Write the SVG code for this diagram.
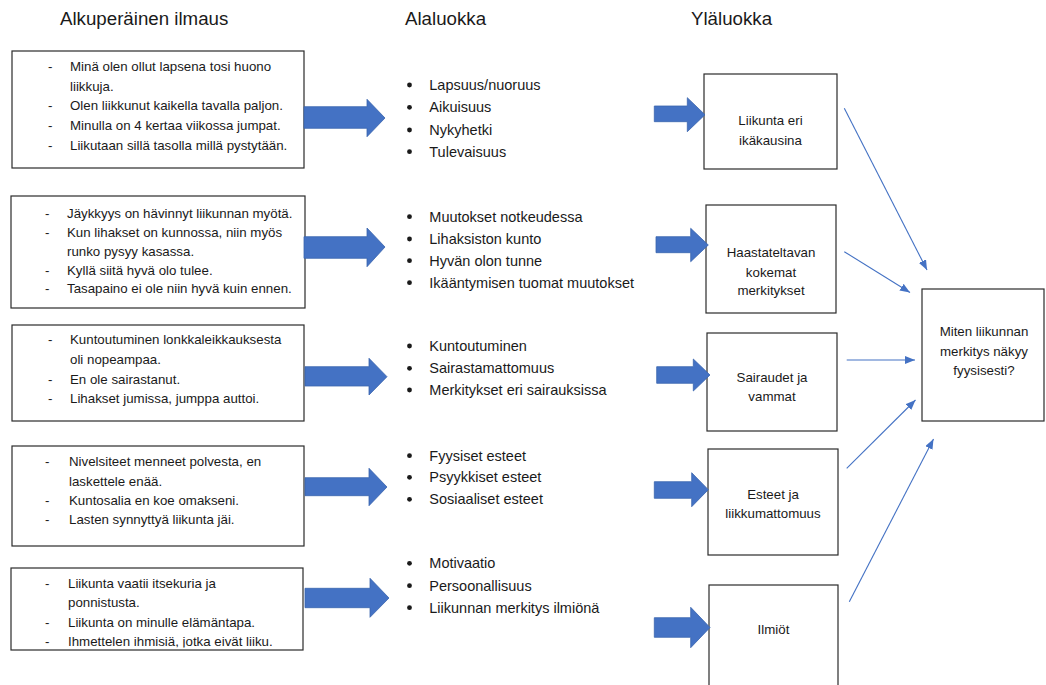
<svg xmlns="http://www.w3.org/2000/svg" width="1046" height="685" viewBox="0 0 1046 685">
<style>
text{font-family:"Liberation Sans",Arial,sans-serif;fill:#1a1a1a}
.h{font-size:18.7px}
.s{font-size:13.3px}
.m{font-size:14.5px}
.r{font-size:13.3px;text-anchor:middle}
.box{fill:#fff;stroke:#2b2b2b;stroke-width:1.2}
.blk{fill:#4472C4;stroke:#3a64ad;stroke-width:0.8}
.thin{stroke:#4472C4;stroke-width:1.1;fill:none;marker-end:url(#ah)}
</style>
<defs>
<marker id="ah" markerUnits="userSpaceOnUse" markerWidth="10" markerHeight="8" refX="10" refY="4" orient="auto">
<path d="M0,0 L10,4 L0,8 Z" fill="#4472C4"/>
</marker>
<clipPath id="c5"><rect x="0" y="560" width="310" height="87.5"/></clipPath>
</defs>
<rect width="1046" height="685" fill="#fff"/>
<g id="headers">
<text class="h" x="60" y="25">Alkuperäinen ilmaus</text>
<text class="h" x="405" y="25">Alaluokka</text>
<text class="h" x="691" y="25">Yläluokka</text>
</g>
<g id="orig1">
<rect class="box" x="12" y="51" width="292" height="117"/>
<text class="s" x="48" y="71">-</text><text class="s" x="70" y="71">Minä olen ollut lapsena tosi huono</text>
<text class="s" x="70" y="90.7">liikkuja.</text>
<text class="s" x="48" y="110.3">-</text><text class="s" x="70" y="110.3">Olen liikkunut kaikella tavalla paljon.</text>
<text class="s" x="48" y="130">-</text><text class="s" x="70" y="130">Minulla on 4 kertaa viikossa jumpat.</text>
<text class="s" x="48" y="149.7">-</text><text class="s" x="70" y="149.7">Liikutaan sillä tasolla millä pystytään.</text>
</g>
<g id="orig2">
<rect class="box" x="11" y="196" width="294" height="112"/>
<text class="s" x="45" y="218.3">-</text><text class="s" x="67" y="218.3">Jäykkyys on hävinnyt liikunnan myötä.</text>
<text class="s" x="45" y="237.3">-</text><text class="s" x="67" y="237.3">Kun lihakset on kunnossa, niin myös</text>
<text class="s" x="67" y="255.7">runko pysyy kasassa.</text>
<text class="s" x="45" y="275">-</text><text class="s" x="67" y="275">Kyllä siitä hyvä olo tulee.</text>
<text class="s" x="45" y="293">-</text><text class="s" x="67" y="293">Tasapaino ei ole niin hyvä kuin ennen.</text>
</g>
<g id="orig3">
<rect class="box" x="12" y="325" width="292" height="96"/>
<text class="s" x="48" y="344.3">-</text><text class="s" x="70" y="344.3">Kuntoutuminen lonkkaleikkauksesta</text>
<text class="s" x="70" y="364">oli nopeampaa.</text>
<text class="s" x="48" y="383.7">-</text><text class="s" x="70" y="383.7">En ole sairastanut.</text>
<text class="s" x="48" y="403">-</text><text class="s" x="70" y="403">Lihakset jumissa, jumppa auttoi.</text>
</g>
<g id="orig4">
<rect class="box" x="12" y="446" width="292" height="100"/>
<text class="s" x="45" y="465.7">-</text><text class="s" x="69" y="465.7">Nivelsiteet menneet polvesta, en</text>
<text class="s" x="69" y="485.7">laskettele enää.</text>
<text class="s" x="45" y="505">-</text><text class="s" x="69" y="505">Kuntosalia en koe omakseni.</text>
<text class="s" x="45" y="524">-</text><text class="s" x="69" y="524">Lasten synnyttyä liikunta jäi.</text>
</g>
<g id="orig5">
<rect class="box" x="11" y="568" width="292" height="82"/>
<g clip-path="url(#c5)">
<text class="s" x="45" y="587.7">-</text><text class="s" x="68" y="587.7">Liikunta vaatii itsekuria ja</text>
<text class="s" x="68" y="607">ponnistusta.</text>
<text class="s" x="45" y="626.7">-</text><text class="s" x="68" y="626.7">Liikunta on minulle elämäntapa.</text>
<text class="s" x="45" y="645.7">-</text><text class="s" x="68" y="645.7">Ihmettelen ihmisiä, jotka eivät liiku.</text>
</g>
</g>
<g id="sub1">
<circle cx="409.5" cy="85" r="2.4" fill="#1a1a1a"/><text class="m" x="429.3" y="90">Lapsuus/nuoruus</text>
<circle cx="409.5" cy="107.3" r="2.4" fill="#1a1a1a"/><text class="m" x="429.3" y="112.3">Aikuisuus</text>
<circle cx="409.5" cy="130" r="2.4" fill="#1a1a1a"/><text class="m" x="429.3" y="135">Nykyhetki</text>
<circle cx="409.5" cy="151.7" r="2.4" fill="#1a1a1a"/><text class="m" x="429.3" y="156.7">Tulevaisuus</text>
</g>
<g id="sub2">
<circle cx="409.5" cy="216.7" r="2.4" fill="#1a1a1a"/><text class="m" x="429.3" y="221.7">Muutokset notkeudessa</text>
<circle cx="409.5" cy="239" r="2.4" fill="#1a1a1a"/><text class="m" x="429.3" y="244">Lihaksiston kunto</text>
<circle cx="409.5" cy="260.7" r="2.4" fill="#1a1a1a"/><text class="m" x="429.3" y="265.7">Hyvän olon tunne</text>
<circle cx="409.5" cy="282.7" r="2.4" fill="#1a1a1a"/><text class="m" x="429.3" y="287.7">Ikääntymisen tuomat muutokset</text>
</g>
<g id="sub3">
<circle cx="409.5" cy="346" r="2.4" fill="#1a1a1a"/><text class="m" x="429.3" y="351">Kuntoutuminen</text>
<circle cx="409.5" cy="368.3" r="2.4" fill="#1a1a1a"/><text class="m" x="429.3" y="373.3">Sairastamattomuus</text>
<circle cx="409.5" cy="390" r="2.4" fill="#1a1a1a"/><text class="m" x="429.3" y="395">Merkitykset eri sairauksissa</text>
</g>
<g id="sub4">
<circle cx="409.5" cy="455.7" r="2.4" fill="#1a1a1a"/><text class="m" x="429.3" y="460.7">Fyysiset esteet</text>
<circle cx="409.5" cy="477.3" r="2.4" fill="#1a1a1a"/><text class="m" x="429.3" y="482.3">Psyykkiset esteet</text>
<circle cx="409.5" cy="499.3" r="2.4" fill="#1a1a1a"/><text class="m" x="429.3" y="504.3">Sosiaaliset esteet</text>
</g>
<g id="sub5">
<circle cx="409.5" cy="563.3" r="2.4" fill="#1a1a1a"/><text class="m" x="429.3" y="568.3">Motivaatio</text>
<circle cx="409.5" cy="585.7" r="2.4" fill="#1a1a1a"/><text class="m" x="429.3" y="590.7">Persoonallisuus</text>
<circle cx="409.5" cy="607.7" r="2.4" fill="#1a1a1a"/><text class="m" x="429.3" y="612.7">Liikunnan merkitys ilmiönä</text>
</g>
<g id="top1">
<rect class="box" x="704" y="74" width="133" height="95"/>
<text class="r" x="770.5" y="124.5">Liikunta eri</text>
<text class="r" x="770.5" y="144.5">ikäkausina</text>
</g>
<g id="top2">
<rect class="box" x="706" y="205" width="130" height="108"/>
<text class="r" x="771" y="257.2">Haastateltavan</text>
<text class="r" x="771" y="276.8">kokemat</text>
<text class="r" x="771" y="294.5">merkitykset</text>
</g>
<g id="top3">
<rect class="box" x="707" y="333" width="130" height="98"/>
<text class="r" x="772" y="381.8">Sairaudet ja</text>
<text class="r" x="772" y="401.2">vammat</text>
</g>
<g id="top4">
<rect class="box" x="708" y="449" width="130" height="106"/>
<text class="r" x="773" y="498.8">Esteet ja</text>
<text class="r" x="773" y="517.8">liikkumattomuus</text>
</g>
<g id="top5">
<rect class="box" x="709" y="585" width="129" height="110"/>
<text class="r" x="773.5" y="633.8">Ilmiöt</text>
</g>
<g id="result">
<rect class="box" x="922" y="289" width="122" height="132"/>
<text class="r" x="984" y="336">Miten liikunnan</text>
<text class="r" x="984" y="356">merkitys näkyy</text>
<text class="r" x="984" y="374.5">fyysisesti?</text>
</g>
<g id="connectors">
<path class="blk" d="M304,106.7 L367,106.7 L367,99.3 L385,118 L367,136.7 L367,128.3 L304,128.3 Z"/>
<path class="blk" d="M304,236.7 L367,236.7 L367,228 L385,247 L367,266.7 L367,258.3 L304,258.3 Z"/>
<path class="blk" d="M305,366.7 L369,366.7 L369,358.3 L387,376.7 L369,395 L369,386 L305,386 Z"/>
<path class="blk" d="M305,477.7 L369,477.7 L369,468.3 L387,487 L369,505.7 L369,495.7 L305,495.7 Z"/>
<path class="blk" d="M305,588.3 L370,588.3 L370,578.3 L389,598 L370,617.3 L370,607.7 L305,607.7 Z"/>
<path class="blk" d="M654.3,106 L687.3,106 L687.3,97.7 L705,114.7 L687.3,131.7 L687.3,121.7 L654.3,121.7 Z"/>
<path class="blk" d="M656,236.7 L690.7,236.7 L690.7,228.3 L708.3,245 L690.7,261.7 L690.7,252.7 L656,252.7 Z"/>
<path class="blk" d="M656.7,366.7 L693.3,366.7 L693.3,359 L710,375 L693.3,391 L693.3,383.3 L656.7,383.3 Z"/>
<path class="blk" d="M654.3,481.7 L691.7,481.7 L691.7,472.7 L708.3,489.7 L691.7,506.7 L691.7,498.3 L654.3,498.3 Z"/>
<path class="blk" d="M654.3,617.7 L690.7,617.7 L690.7,607.3 L710,627.5 L690.7,647.7 L690.7,637.3 L654.3,637.3 Z"/>
<line class="thin" x1="844.3" y1="108.3" x2="927" y2="270"/>
<line class="thin" x1="844.3" y1="251.7" x2="910" y2="292.5"/>
<line class="thin" x1="846.7" y1="360" x2="915" y2="360"/>
<line class="thin" x1="846.7" y1="468.3" x2="915.5" y2="400"/>
<line class="thin" x1="849.3" y1="601.7" x2="933.5" y2="439"/>
</g>
</svg>
